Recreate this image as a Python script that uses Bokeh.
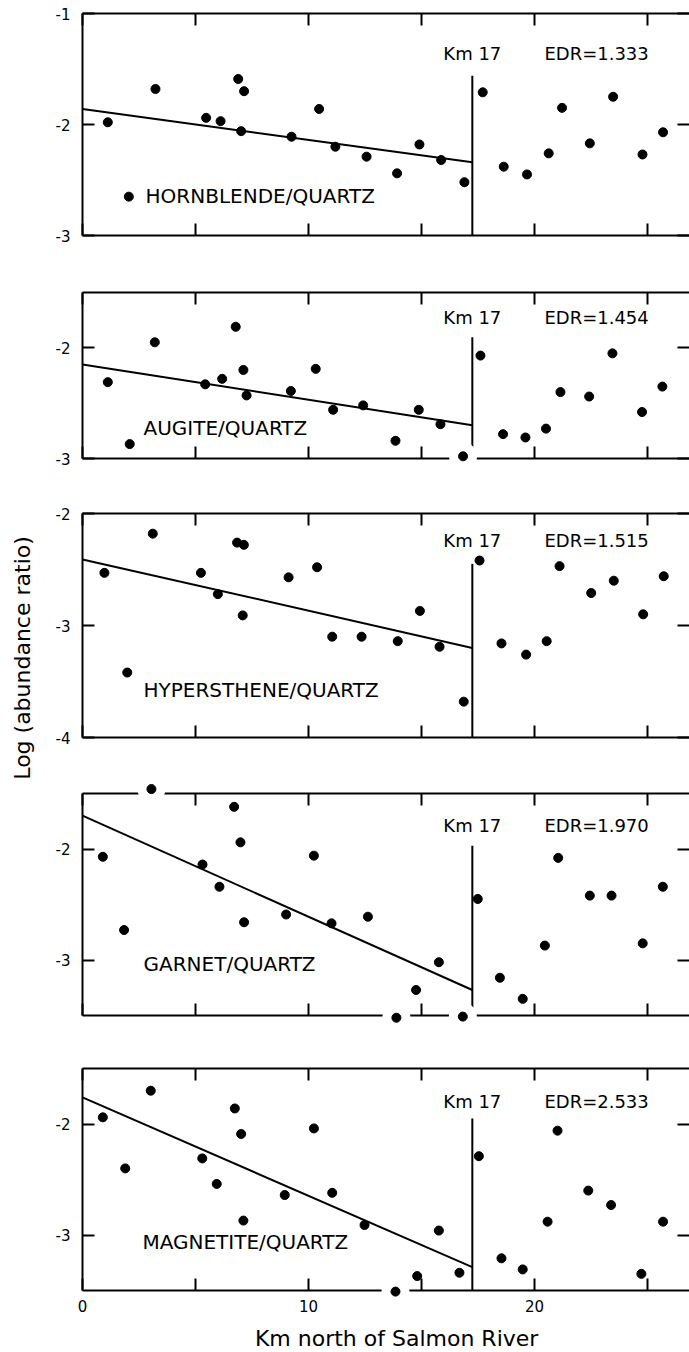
import math
from bokeh.plotting import figure
from bokeh.models import LinearAxis, FixedTicker, Label, Range1d
from bokeh.layouts import column
from bokeh.embed import file_html
from bokeh.resources import INLINE

# ---------------- data ----------------
km_ticks = [0, 5, 10, 15, 20, 25]
km_tick_labels = {0: "0", 10: "10", 20: "20"}
boundary_km = 17.25          # "Km 17" break
fit_km = [0.0, 17.25]        # regression line drawn from 0 to the break

hb_km = [1.12, 3.23, 2.05, 5.47, 6.11, 6.89, 7.15, 7.02, 9.25, 10.47, 11.19, 12.57, 13.92,
         14.91, 15.87, 16.90, 17.71, 18.64, 19.67, 20.63, 21.22, 22.45, 23.48, 24.78, 25.69]
hb_log = [-1.98, -1.68, -2.65, -1.94, -1.97, -1.59, -1.70, -2.06, -2.11, -1.86, -2.20, -2.29, -2.44,
          -2.18, -2.32, -2.52, -1.71, -2.38, -2.45, -2.26, -1.85, -2.17, -1.75, -2.27, -2.07]
hb_fit = [-1.86, -2.34]

au_km = [1.12, 3.20, 2.09, 5.43, 6.18, 6.78, 7.12, 7.26, 9.22, 10.32, 11.09, 12.42, 13.85,
         14.88, 15.84, 16.84, 17.61, 18.61, 19.60, 20.51, 21.15, 22.42, 23.45, 24.76, 25.66]
au_log = [-2.31, -1.95, -2.87, -2.33, -2.28, -1.81, -2.20, -2.43, -2.39, -2.19, -2.56, -2.52, -2.84,
          -2.56, -2.69, -2.98, -2.07, -2.78, -2.81, -2.73, -2.40, -2.44, -2.05, -2.58, -2.35]
au_fit = [-2.15, -2.70]

hy_km = [0.97, 3.11, 1.98, 5.24, 5.99, 6.84, 7.14, 7.09, 9.12, 10.38, 11.05, 12.35, 13.95,
         14.93, 15.80, 16.87, 17.57, 18.54, 19.63, 20.54, 21.11, 22.51, 23.51, 24.81, 25.72]
hy_log = [-2.53, -2.18, -3.42, -2.53, -2.72, -2.26, -2.28, -2.91, -2.57, -2.48, -3.10, -3.10, -3.14,
          -2.87, -3.19, -3.68, -2.42, -3.16, -3.26, -3.14, -2.47, -2.71, -2.60, -2.90, -2.56]
hy_fit = [-2.41, -3.20]

ga_km = [0.90, 3.05, 1.84, 5.31, 6.06, 6.71, 6.99, 7.15, 9.01, 10.24, 11.02, 12.63, 13.89,
         14.76, 15.77, 16.83, 17.49, 18.47, 19.48, 20.46, 21.05, 22.45, 23.41, 24.79, 25.68]
ga_log = [-2.07, -1.46, -2.73, -2.14, -2.34, -1.62, -1.94, -2.66, -2.59, -2.06, -2.67, -2.61, -3.52,
          -3.27, -3.02, -3.51, -2.45, -3.16, -3.35, -2.87, -2.08, -2.42, -2.42, -2.85, -2.34]
ga_fit = [-1.70, -3.27]

ma_km = [0.90, 3.02, 1.89, 5.30, 5.94, 6.74, 7.02, 7.12, 8.95, 10.24, 11.05, 12.48, 13.85,
         14.81, 15.77, 16.68, 17.54, 18.54, 19.48, 20.58, 21.02, 22.38, 23.39, 24.73, 25.69]
ma_log = [-1.94, -1.70, -2.40, -2.31, -2.54, -1.86, -2.09, -2.87, -2.64, -2.04, -2.62, -2.91, -3.51,
          -3.37, -2.96, -3.34, -2.29, -3.21, -3.31, -2.88, -2.06, -2.60, -2.73, -3.35, -2.88]
ma_fit = [-1.76, -3.29]

names = ["HORNBLENDE/QUARTZ", "AUGITE/QUARTZ", "HYPERSTHENE/QUARTZ", "GARNET/QUARTZ", "MAGNETITE/QUARTZ"]
edr_values = ["1.333", "1.454", "1.515", "1.970", "2.533"]
y_limits = [(-3.0, -1.0), (-3.0, -1.5), (-4.0, -2.0), (-3.5, -1.5), (-3.5, -1.5)]
y_tick_values = [[-3, -2, -1], [-3, -2], [-4, -3, -2], [-3, -2], [-3, -2]]

series = [(hb_km, hb_log, hb_fit), (au_km, au_log, au_fit), (hy_km, hy_log, hy_fit),
          (ga_km, ga_log, ga_fit), (ma_km, ma_log, ma_fit)]

# ---------------- layout / style ----------------
FONT = "DejaVu Sans"
X_END = 26.86
FIG_W = 689
LEFT = 82                                   # pixel position of km 0
X_START = -LEFT * X_END / (FIG_W - LEFT)    # frame covers whole width
# (figure height, pad above box, pad below box)
geom = [(263, 13, 28), (222, 29, 27), (298, 28, 46), (258, 10, 26), (311, 27, 62)]
vline_top = [-1.56, -1.905, -2.45, -1.97, -1.95]
label_pos = [(2.79, -2.64), (2.7, -2.72), (2.7, -3.58), (2.7, -3.04), (2.65, -3.06)]
km17_y = [-1.36, -1.73, -2.24, -1.79, -1.80]
edr_x = 20.44


def style_axis(ax):
    ax.axis_line_width = 2
    ax.axis_line_color = "black"
    ax.major_tick_line_width = 2
    ax.major_tick_line_color = "black"
    ax.major_tick_in = 12
    ax.major_tick_out = 0
    ax.minor_tick_line_color = None
    ax.major_label_text_font = FONT
    ax.major_label_text_font_size = "15px"
    ax.major_label_text_color = "black"


figs = []
for i in range(5):
    km, logr, fit = series[i]
    ymin, ymax = y_limits[i]
    h, pt, pb = geom[i]
    ppu = (h - pt - pb) / (ymax - ymin)
    last = i == 4
    p = figure(width=FIG_W, height=h, x_range=Range1d(X_START, X_END),
               y_range=Range1d(ymin - pb / ppu, ymax + pt / ppu),
               output_backend="svg", toolbar_location=None,
               x_axis_location=None, y_axis_location=None,
               min_border_left=0, min_border_right=0,
               min_border_top=0, min_border_bottom=0)
    p.outline_line_color = None
    p.grid.visible = False
    p.background_fill_color = "white"
    p.border_fill_color = "white"

    left = LinearAxis(ticker=FixedTicker(ticks=y_tick_values[i]), bounds=(ymin, ymax),
                      fixed_location=0,
                      major_label_overrides={t: f"{t:d}" for t in y_tick_values[i]})
    style_axis(left)
    left.major_label_standoff = 12
    p.add_layout(left, "left")

    right = LinearAxis(ticker=FixedTicker(ticks=y_tick_values[i]), fixed_location=X_END)
    style_axis(right)
    right.axis_line_color = None
    right.major_label_text_color = None
    p.add_layout(right, "right")

    top = LinearAxis(ticker=FixedTicker(ticks=km_ticks), fixed_location=ymax, bounds=(0, X_END))
    style_axis(top)
    top.major_label_text_color = None
    p.add_layout(top, "above")

    bottom = LinearAxis(ticker=FixedTicker(ticks=km_ticks), fixed_location=ymin, bounds=(0, X_END))
    style_axis(bottom)
    if last:
        bottom.major_label_overrides = {t: km_tick_labels.get(t, "") for t in km_ticks}
        bottom.major_label_standoff = 9
    else:
        bottom.major_label_text_color = None
    p.add_layout(bottom, "below")

    # vertical break line at Km 17
    p.segment(x0=[boundary_km], y0=[vline_top[i]], x1=[boundary_km], y1=[ymin],
              line_color="black", line_width=2)

    # white halos for points touching the frame
    near_k = [k for k, v in zip(km, logr) if (v - ymin) < 0.1 or (ymax - v) < 0.1]
    near_v = [v for v in logr if (v - ymin) < 0.1 or (ymax - v) < 0.1]
    if near_k:
        p.scatter(near_k, near_v, size=28, fill_color="white", line_color=None, level="overlay")

    p.line(fit_km, fit, line_color="black", line_width=2, level="overlay")
    p.scatter(km, logr, size=9, fill_color="black", line_color="black", level="overlay")

    lx, ly = label_pos[i]
    p.add_layout(Label(x=lx, y=ly, text=names[i], text_font=FONT, text_font_size="20px",
                       text_baseline="middle", text_align="left", text_color="black"))
    p.add_layout(Label(x=boundary_km, y=km17_y[i], text="Km 17", text_font=FONT,
                       text_font_size="18px", text_baseline="middle", text_align="center",
                       text_color="black"))
    p.add_layout(Label(x=edr_x, y=km17_y[i], text="EDR=" + edr_values[i], text_font=FONT,
                       text_font_size="18px", text_baseline="middle", text_align="left",
                       text_color="black"))
    if i == 2:
        p.add_layout(Label(x=-2.65, y=-3.29, text="Log (abundance ratio)", text_font=FONT,
                           text_font_size="22px", text_baseline="middle", text_align="center",
                           angle=math.pi / 2, text_color="black"))
    if last:
        p.add_layout(Label(x=13.9, y=-3.93, text="Km north of Salmon River", text_font=FONT,
                           text_font_size="22px", text_baseline="middle", text_align="center",
                           text_color="black"))
    figs.append(p)

layout = column(*figs, spacing=0)
open("out.html", "w").write(file_html(layout, INLINE))
